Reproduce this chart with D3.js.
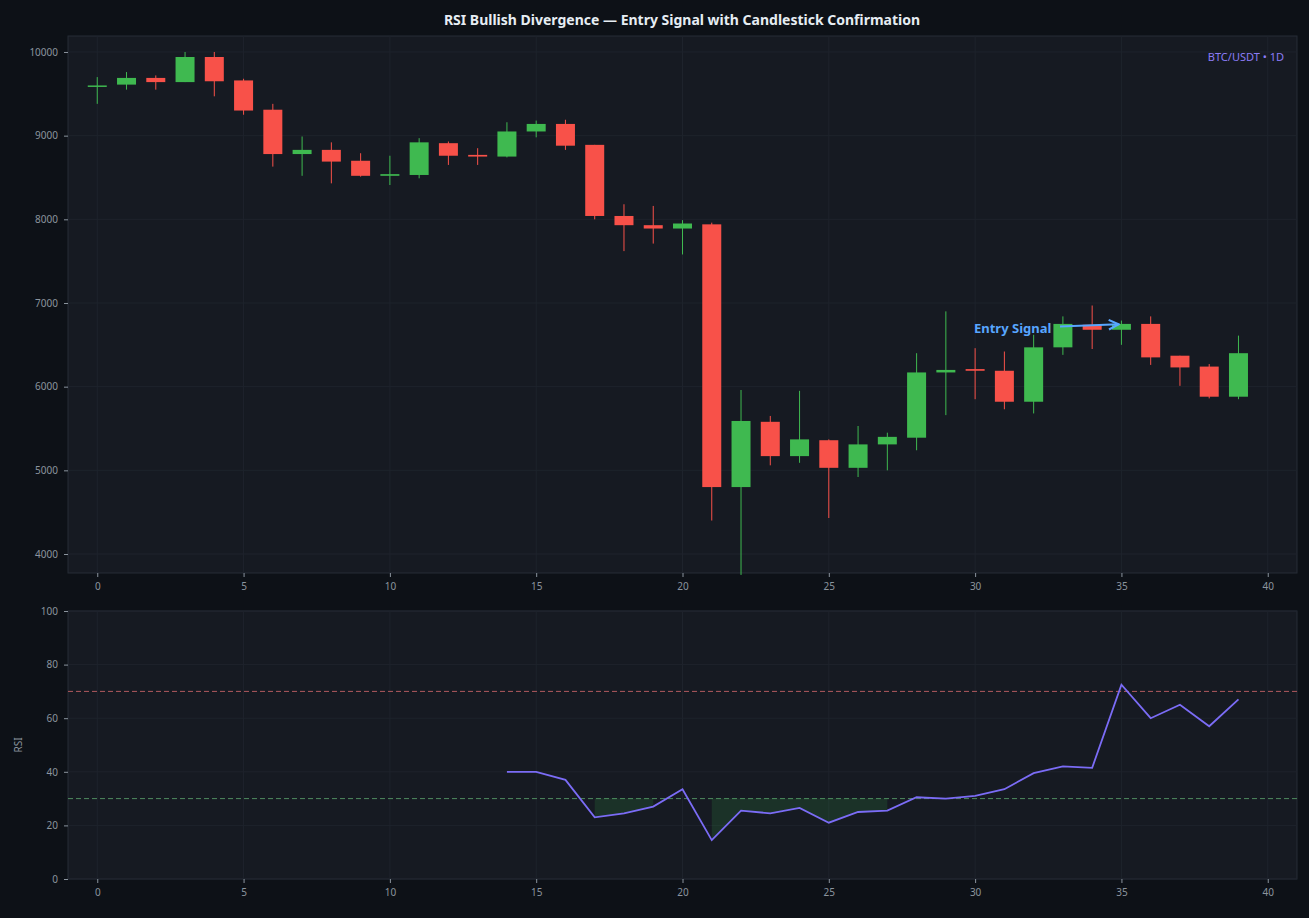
<!DOCTYPE html>
<html>
<head>
<meta charset="utf-8">
<script src="https://cdn.jsdelivr.net/npm/d3@7"></script>
<style>
  body { margin: 0; background: #0d1117; }
  text { font-family: "Noto Sans", sans-serif; }
</style>
</head>
<body>
<svg id="chart" width="1309" height="918"></svg>
<script>
// OHLC per day (index 0..39)
const opens  = [9590,9610,9690,9640,9940,9660,9310,8780,8830,8700,8520,8530,8910,8770,8750,9050,9140,8890,8040,7930,7890,7940,4800,5580,5170,5360,5030,5310,5390,6170,6210,6190,5820,6470,6740,6680,6750,6370,6240,5880];
const closes = [9600,9690,9640,9940,9650,9300,8780,8830,8690,8520,8540,8920,8760,8750,9050,9140,8880,8040,7930,7890,7950,4800,5590,5170,5370,5030,5310,5400,6170,6200,6190,5820,6470,6750,6680,6750,6350,6230,5880,6400];
const highs  = [9700,9760,9720,10000,10000,9680,9380,8990,8920,8790,8760,8970,8930,8850,9160,9180,9190,8890,8180,8160,7990,7960,5960,5650,5950,5370,5530,5450,6400,6900,6460,6420,6620,6840,6970,6790,6840,6370,6270,6610];
const lows   = [9380,9550,9550,9640,9470,9250,8630,8520,8430,8510,8410,8490,8650,8650,8740,8980,8830,8000,7620,7710,7580,4400,3750,5060,5090,4430,4920,5000,5240,5660,5850,5730,5680,6380,6450,6500,6260,6010,5860,5850];
// RSI starts at index 14
const rsiStart = 14;
const rsiValues = [40,40,37,23,24.5,27,33.5,14.5,25.5,24.5,26.5,21,25,25.5,30.5,30,31,33.5,39.5,42,41.5,72.5,60,65,57,67];
const xTicks = [0,5,10,15,20,25,30,35,40];
const priceTicks = [4000,5000,6000,7000,8000,9000,10000];
const rsiTicks = [0,20,40,60,80,100];

const candles = opens.map((o, i) => ({ i, o, c: closes[i], h: highs[i], l: lows[i] }));
const rsi = rsiValues.map((v, k) => ({ i: k + rsiStart, v }));

const svg = d3.select("#chart");
const UP = "#3fb950", DOWN = "#f85149", GRID = "#1e232c", TICK = "#8b949e";
const left = 68, right = 1297;

svg.append("text").attr("x", 682).attr("y", 25).attr("text-anchor", "middle")
  .attr("fill", "#e6edf3").attr("font-size", 14).attr("font-weight", "bold")
  .text("RSI Bullish Divergence — Entry Signal with Candlestick Confirmation");

const x = d3.scaleLinear().domain([-1, 41]).range([left, right]);

function panel(top, bottom, y, yTicks) {
  svg.append("rect").attr("x", left).attr("y", top).attr("width", right - left).attr("height", bottom - top)
    .attr("fill", "#161a22").attr("stroke", "#262c36");
  const g = svg.append("g");
  g.selectAll(".gx").data(xTicks).join("line")
    .attr("x1", d => x(d)).attr("x2", d => x(d)).attr("y1", top).attr("y2", bottom).attr("stroke", GRID);
  g.selectAll(".gy").data(yTicks).join("line")
    .attr("x1", left).attr("x2", right).attr("y1", d => y(d)).attr("y2", d => y(d)).attr("stroke", GRID);
  const ax = svg.append("g").attr("transform", `translate(0,${bottom})`)
    .call(d3.axisBottom(x).tickValues(xTicks).tickFormat(d3.format("d")).tickSize(4).tickPadding(6));
  const ay = svg.append("g").attr("transform", `translate(${left},0)`)
    .call(d3.axisLeft(y).tickValues(yTicks).tickFormat(d3.format("d")).tickSize(4).tickPadding(6));
  [ax, ay].forEach(a => {
    a.select(".domain").remove();
    a.selectAll("line").attr("stroke", TICK);
    a.selectAll("text").attr("fill", TICK).attr("font-size", 10).style("font-family", "Noto Sans");
  });
}

// price panel
const yP = d3.scaleLinear().domain([3773, 10191]).range([573, 36]);
panel(36, 573, yP, priceTicks);
const bw = 19;
const cg = svg.append("g");
cg.selectAll(".wick").data(candles).join("line")
  .attr("x1", d => x(d.i)).attr("x2", d => x(d.i))
  .attr("y1", d => yP(d.h)).attr("y2", d => yP(d.l))
  .attr("stroke", d => d.c >= d.o ? UP : DOWN).attr("stroke-width", 1);
cg.selectAll(".body").data(candles).join("rect")
  .attr("x", d => x(d.i) - bw / 2).attr("width", bw)
  .attr("y", d => yP(Math.max(d.o, d.c)))
  .attr("height", d => Math.max(1.5, Math.abs(yP(d.o) - yP(d.c))))
  .attr("fill", d => d.c >= d.o ? UP : DOWN);

svg.append("text").attr("x", 1284).attr("y", 61).attr("text-anchor", "end")
  .attr("fill", "#8b7cf6").attr("font-size", 11).text("BTC/USDT • 1D");

// entry annotation
svg.append("defs").append("marker").attr("id", "arr").attr("viewBox", "0 0 10 10")
  .attr("refX", 9).attr("refY", 5).attr("markerWidth", 6).attr("markerHeight", 6).attr("orient", "auto")
  .append("path").attr("d", "M1,1 L9,5 L1,9").attr("fill", "none").attr("stroke", "#58a6ff").attr("stroke-width", 1.8);
svg.append("line").attr("x1", 1060).attr("y1", yP(6720)).attr("x2", x(35) - 3).attr("y2", yP(6745))
  .attr("stroke", "#58a6ff").attr("stroke-width", 2).attr("marker-end", "url(#arr)");
svg.append("text").attr("x", 974).attr("y", 333).attr("fill", "#58a6ff")
  .attr("font-size", 13).attr("font-weight", "bold").text("Entry Signal");

// RSI panel
const yR = d3.scaleLinear().domain([0, 100]).range([879, 611]);
panel(611, 879, yR, rsiTicks);
svg.append("text").attr("transform", "translate(22,745) rotate(-90)").attr("text-anchor", "middle")
  .attr("fill", TICK).attr("font-size", 10).text("RSI");
[[70, "#b05a5e"], [30, "#4f8a5f"]].forEach(([v, col]) => {
  svg.append("line").attr("x1", left).attr("x2", right).attr("y1", yR(v)).attr("y2", yR(v))
    .attr("stroke", col).attr("stroke-dasharray", "5,3").attr("stroke-width", 1);
});
svg.append("path").datum(rsi)
  .attr("d", d3.area().defined(d => d.v < 30).x(d => x(d.i)).y0(yR(30)).y1(d => yR(d.v)))
  .attr("fill", "#3fb950").attr("fill-opacity", 0.15);
svg.append("path").datum(rsi)
  .attr("d", d3.line().x(d => x(d.i)).y(d => yR(d.v)))
  .attr("fill", "none").attr("stroke", "#7b6cf6").attr("stroke-width", 1.8);
</script>
</body>
</html>
